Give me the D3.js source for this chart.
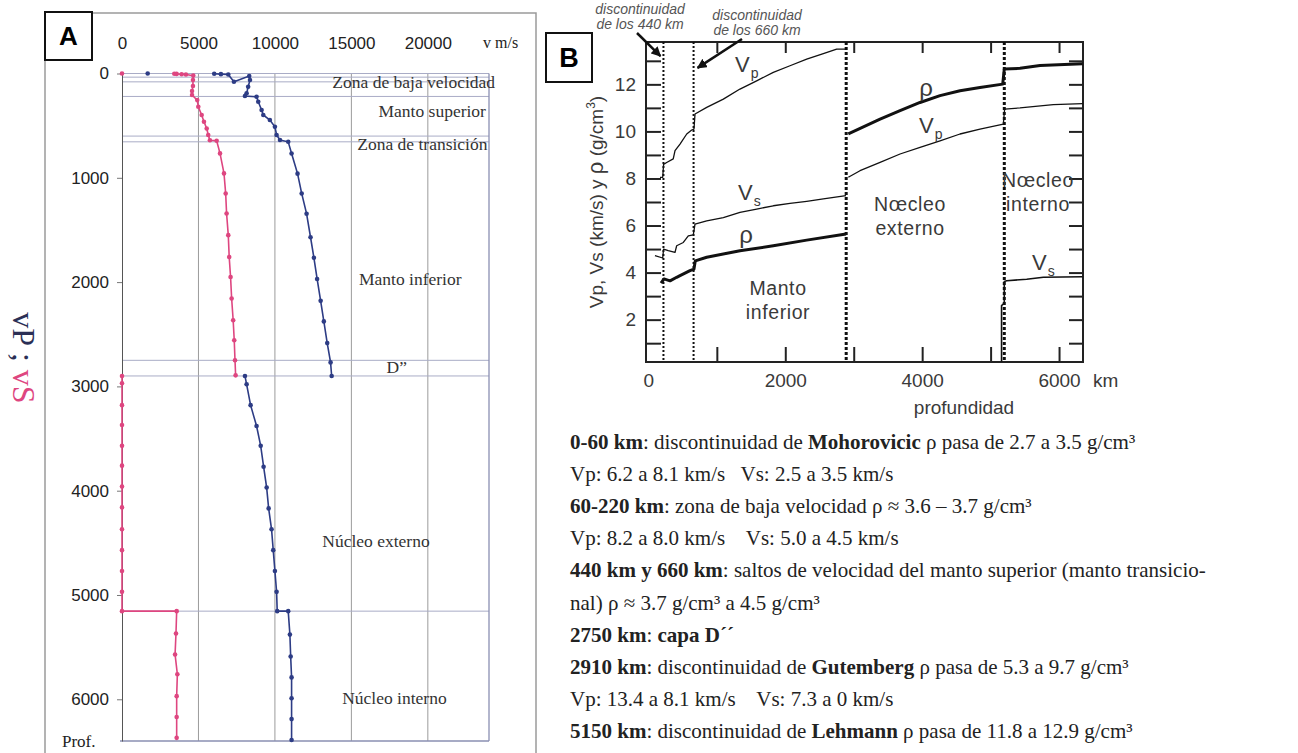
<!DOCTYPE html>
<html><head><meta charset="utf-8">
<script src="https://cdn.jsdelivr.net/npm/d3@7"></script>
<style>body{margin:0;background:#fff}svg{display:block}</style>
</head><body>
<svg id="c" width="1298" height="753"></svg>
<script>
// ---------------- Panel A data (depth km, velocity m/s) ----------------
const aDepthTicks = [0,1000,2000,3000,4000,5000,6000];
const aVelTicks = [0,5000,10000,15000,20000];
const aBandDepths = [0,35,80,220,600,655,2750,2900,5155];
const aVpOcean = [[0,1680]];
const aVpMantle = [[3,6030],[6,6470],[10,6950],[79,7320],[24,8320],[62,8370],[127,8250],[190,8150],[216,8040],[223,8800],[271,8910],[350,9130],[398,9240],[446,9670],[511,10000],[590,10110],[638,10330],[655,10870],[767,11090],[960,11480],[1150,11750],[1344,12070],[1570,12330],[1767,12550],[1970,12760],[2180,12990],[2377,13200],[2585,13420],[2770,13640],[2900,13710]];
const aVpCore = [[2900,8040],[2980,8150],[3180,8410],[3380,8800],[3570,9070],[3770,9260],[3970,9460],[4170,9590],[4370,9780],[4570,9890],[4770,10000],[4970,10110],[5155,10150],[5155,10870],[5380,10980],[5590,11030],[5790,11090],[5990,11090],[6190,11090],[6390,11090]];
const aVsOcean = [[0,0]];
const aVsMantle = [[2,3420],[4,3570],[7,3900],[10,4180],[20,4660],[62,4640],[120,4640],[168,4580],[206,4580],[255,4920],[319,4990],[398,5210],[463,5360],[527,5540],[590,5640],[640,5750],[645,6190],[766,6410],[958,6670],[1150,6780],[1342,6840],[1550,6950],[1759,7010],[1951,7100],[2158,7170],[2366,7270],[2558,7340],[2750,7390],[2894,7430]];
const aVsCore = [[2900,0],[2970,0],[3180,0],[3370,0],[3570,0],[3760,0],[3960,0],[4160,0],[4370,0],[4570,0],[4770,0],[4970,0],[5155,0],[5155,3575],[5370,3530],[5570,3470],[5760,3620],[5970,3575],[6170,3575],[6370,3575]];
const aLayerLabels = [
  {t:"Zona de baja velocidad", d:135, v:24400, a:"end"},
  {t:"Manto superior", d:415, v:23800, a:"end"},
  {t:"Zona de transición", d:735, v:23900, a:"end"},
  {t:"Manto inferior", d:2030, v:15500, a:"start"},
  {t:"D\u201D", d:2870, v:17300, a:"start"},
  {t:"Núcleo externo", d:4540, v:13100, a:"start"},
  {t:"Núcleo interno", d:6050, v:14400, a:"start"}
];

// ---------------- Panel B data (depth km, value) ----------------
const bXTicks = [0,1000,2000,3000,4000,5000,6000];
const bXLabels = [0,2000,4000,6000];
const bYTicks = [1,2,3,4,5,6,7,8,9,10,11,12,13];
const bYLabels = [2,4,6,8,10,12];
const bDiscont = [220,660,2890,5200];
const bVpMantle = [[170,8.05],[209,8.05],[222,8.6],[267,8.68],[363,8.83],[389,9.18],[462,9.46],[560,9.89],[633,10.06],[666,10.1],[681,10.74],[852,11.02],[1095,11.37],[1338,11.80],[1582,12.15],[1825,12.51],[2069,12.79],[2313,13.07],[2556,13.31],[2751,13.50],[2897,13.50]];
const bVpCore = [[2921,8.05],[3092,8.33],[3385,8.68],[3677,9.04],[3969,9.32],[4261,9.60],[4553,9.89],[4845,10.10],[5186,10.31],[5205,10.95],[5430,11.0],[5916,11.14],[6345,11.18]];
const bRhoMantle = [[185,3.55],[228,3.73],[316,3.65],[413,3.80],[462,3.87],[608,4.08],[666,4.15],[685,4.50],[852,4.65],[1338,4.93],[1825,5.14],[2313,5.38],[2887,5.64]];
const bRhoCore = [[2921,9.9],[3385,10.52],[3677,10.88],[3969,11.23],[4261,11.52],[4553,11.73],[4845,11.87],[5177,12.01],[5200,12.65],[5430,12.68],[5722,12.8],[6345,12.88]];
const bVsMantle = [[96,4.72],[209,4.62],[222,5.0],[290,4.93],[389,4.86],[413,5.14],[510,5.28],[583,5.56],[656,5.6],[681,6.06],[852,6.2],[1095,6.34],[1338,6.56],[1582,6.70],[1825,6.84],[2069,6.94],[2313,7.03],[2556,7.13],[2887,7.27]];
const bVsInner = [[5160,0.2],[5160,2.6],[5200,2.7],[5200,3.62],[5235,3.65],[5527,3.72],[5770,3.80],[6345,3.82]];

// ---------------- Notes text ----------------
const notes = [
  [["b","0-60 km"],["n",": discontinuidad de "],["b","Mohorovicic"],["n"," ρ pasa de 2.7 a 3.5 g/cm³"]],
  [["n","Vp: 6.2 a 8.1 km/s   Vs: 2.5 a 3.5 km/s"]],
  [["b","60-220 km"],["n",": zona de baja velocidad ρ ≈ 3.6 – 3.7 g/cm³"]],
  [["n","Vp: 8.2 a 8.0 km/s    Vs: 5.0 a 4.5 km/s"]],
  [["b","440 km y 660 km"],["n",": saltos de velocidad del manto superior (manto transicio-"]],
  [["n","nal) ρ ≈ 3.7 g/cm³ a 4.5 g/cm³"]],
  [["b","2750 km"],["n",": "],["b","capa D´´"]],
  [["b","2910 km"],["n",": discontinuidad de "],["b","Gutemberg"],["n"," ρ pasa de 5.3 a 9.7 g/cm³"]],
  [["n","Vp: 13.4 a 8.1 km/s    Vs: 7.3 a 0 km/s"]],
  [["b","5150 km"],["n",": discontinuidad de "],["b","Lehmann"],["n"," ρ pasa de 11.8 a 12.9 g/cm³"]]
];

const svg = d3.select("#c");
const SERIF = "'Liberation Serif','Times New Roman',serif";
const SANS = "'Liberation Sans',Arial,sans-serif";
const BLUE = "#2d3c85", PINK = "#de4680";
const fmt = d3.format("d");

// ================= PANEL A =================
const xA = d3.scaleLinear([0,24000],[122,489]);
const yA = d3.scaleLinear([0,6400],[73.5,741]);
const gA = svg.append("g");
gA.append("path").attr("d","M45,60V753M92,13H536V753").attr("fill","none").attr("stroke","#9a9a9a").attr("stroke-width",1.5);
gA.append("rect").attr("x",45).attr("y",12).attr("width",47).attr("height",48).attr("fill","#fff").attr("stroke","#111").attr("stroke-width",2);
gA.append("text").attr("x",68.5).attr("y",45).attr("text-anchor","middle").attr("font-family",SANS).attr("font-weight","bold").attr("font-size",26).text("A");

gA.selectAll(".vg").data(aVelTicks.filter(d=>d>0)).join("line")
  .attr("x1",d=>xA(d)).attr("x2",d=>xA(d)).attr("y1",yA(0)).attr("y2",yA(6400))
  .attr("stroke","#9b9b9b").attr("stroke-width",1);
gA.selectAll(".bl").data(aBandDepths).join("line")
  .attr("x1",xA(0)).attr("x2",xA(24000)).attr("y1",d=>yA(d)).attr("y2",d=>yA(d))
  .attr("stroke","#a9acc6").attr("stroke-width",1);
gA.append("line").attr("x1",xA(24000)).attr("x2",xA(24000)).attr("y1",yA(0)).attr("y2",yA(6400)).attr("stroke","#8a8fb2").attr("stroke-width",1.3);
gA.append("line").attr("x1",xA(0)-2).attr("x2",xA(24000)).attr("y1",yA(6400)).attr("y2",yA(6400)).attr("stroke","#8a8fb2").attr("stroke-width",1.5);

const axL = gA.append("g").attr("transform",`translate(${xA(0)},0)`)
  .call(d3.axisLeft(yA).tickValues(aDepthTicks).tickSize(5).tickPadding(8).tickSizeOuter(0).tickFormat(fmt));
axL.select(".domain").attr("stroke","#555");
axL.selectAll(".tick line").attr("stroke","#777");
axL.selectAll("text").attr("font-family",SANS).attr("font-size",17).attr("fill","#222");
const axT = gA.append("g").attr("transform","translate(0,49)")
  .call(d3.axisTop(xA).tickValues(aVelTicks).tickSize(0).tickPadding(0).tickFormat(fmt));
axT.select(".domain").remove();
axT.selectAll("text").attr("font-family",SANS).attr("font-size",17).attr("fill","#222");
gA.append("text").attr("x",483).attr("y",48).attr("font-family",SERIF).attr("font-size",16).attr("fill","#222").text("v m/s");
gA.append("text").attr("x",62).attr("y",747).attr("font-family",SERIF).attr("font-size",17).attr("fill","#222").text("Prof.");

const lab = gA.append("text").attr("transform","translate(13,358) rotate(90)").attr("text-anchor","middle")
  .attr("font-family",SERIF).attr("font-size",32).style("white-space","pre");
lab.append("tspan").attr("fill","#2b2f55").text("vP ; ");
lab.append("tspan").attr("fill",PINK).text("vS");

gA.selectAll(".ll").data(aLayerLabels).join("text")
  .attr("x",d=>xA(d.v)).attr("y",d=>yA(d.d)).attr("text-anchor",d=>d.a)
  .attr("font-family",SERIF).attr("font-size",17.5).attr("fill","#333").text(d=>d.t);

const lineA = d3.line().x(d=>xA(d[1])).y(d=>yA(d[0]));
function seriesA(data,color){
  gA.append("path").datum(data).attr("d",lineA).attr("fill","none").attr("stroke",color).attr("stroke-width",1.6);
  gA.append("g").selectAll("circle").data(data).join("circle")
    .attr("cx",d=>xA(d[1])).attr("cy",d=>yA(d[0])).attr("r",2.3).attr("fill",color);
}
seriesA(aVsOcean,PINK); seriesA(aVsMantle,PINK); seriesA(aVsCore,PINK);
seriesA(aVpOcean,BLUE); seriesA(aVpMantle,BLUE); seriesA(aVpCore,BLUE);

// ================= PANEL B =================
const xB = d3.scaleLinear([-35,6350],[646,1083]);
const yB = d3.scaleLinear([0.2,13.8],[362,42]);
const gB = svg.append("g");
const GREY = "#3a3a3a";
gB.append("rect").attr("x",546).attr("y",33).attr("width",46).attr("height",49).attr("fill","#fff").attr("stroke","#111").attr("stroke-width",2);
gB.append("text").attr("x",569).attr("y",67).attr("text-anchor","middle").attr("font-family",SANS).attr("font-weight","bold").attr("font-size",27).text("B");

const bl = gB.append("g").attr("transform",`translate(${xB.range()[0]},0)`)
  .call(d3.axisLeft(yB).tickValues(bYTicks).tickSize(-15).tickPadding(10).tickFormat(d=>bYLabels.includes(d)?d:""));
const br = gB.append("g").attr("transform",`translate(${xB.range()[1]},0)`)
  .call(d3.axisRight(yB).tickValues(bYTicks).tickSize(-14).tickFormat(""));
const bb = gB.append("g").attr("transform",`translate(0,${yB.range()[0]})`)
  .call(d3.axisBottom(xB).tickValues(bXTicks).tickSize(-15).tickPadding(11.5).tickFormat(d=>bXLabels.includes(d)?fmt(d):""));
const bt = gB.append("g").attr("transform",`translate(0,${yB.range()[1]})`)
  .call(d3.axisTop(xB).tickValues(bXTicks.filter(d=>d>0)).tickSize(-11).tickFormat(""));
bb.selectAll(".tick").filter(d=>d===0).select("line").remove();
[bl,br,bb,bt].forEach(g=>{g.select(".domain").remove();g.selectAll(".tick line").attr("stroke","#222").attr("stroke-width",2);
  g.selectAll("text").attr("font-family",SANS).attr("font-size",19).attr("fill",GREY);});
gB.append("rect").attr("x",646).attr("y",42).attr("width",437).attr("height",320).attr("fill","none").attr("stroke","#222").attr("stroke-width",2);
gB.append("text").attr("x",1093).attr("y",387).attr("font-family",SANS).attr("font-size",19).attr("fill",GREY).text("km");
gB.append("text").attr("x",964).attr("y",414).attr("text-anchor","middle").attr("font-family",SANS).attr("font-size",19).attr("fill",GREY).text("profundidad");
const yt = gB.append("text").attr("transform","translate(603,202) rotate(-90)").attr("text-anchor","middle")
  .attr("font-family",SANS).attr("font-size",19).attr("fill",GREY);
yt.append("tspan").text("Vp, Vs (km/s) y ");
yt.append("tspan").attr("font-size",22).text("ρ");
yt.append("tspan").text(" (g/cm");
yt.append("tspan").attr("font-size",12).attr("dy",-8).text("3");
yt.append("tspan").attr("dy",8).text(")");

gB.selectAll(".dl").data(bDiscont).join("line")
  .attr("x1",d=>xB(d)).attr("x2",d=>xB(d)).attr("y1",yB.range()[1]).attr("y2",yB.range()[0])
  .attr("stroke","#111").attr("stroke-width",(d,i)=>i<2?2:3).attr("stroke-dasharray",(d,i)=>i<2?"2,2":"3,2");

const lineB = d3.line().x(d=>xB(d[0])).y(d=>yB(d[1]));
function curveB(data,w){ gB.append("path").datum(data).attr("d",lineB).attr("fill","none").attr("stroke","#111").attr("stroke-width",w).attr("stroke-linejoin","round"); }
curveB(bVpMantle,1.3); curveB(bVpCore,1.3); curveB(bVsMantle,1.3); curveB(bVsInner,1.6);
curveB(bRhoMantle,3); curveB(bRhoCore,3);

function vlab(x,y,sub){
  const t = gB.append("text").attr("x",x).attr("y",y).attr("font-family",SANS).attr("font-size",22).attr("fill",GREY);
  t.append("tspan").text("V");
  t.append("tspan").attr("font-size",14).attr("dy",6).attr("dx",1).text(sub);
}
vlab(735,72,"p"); vlab(919,133,"p"); vlab(738,200,"s"); vlab(1032,270,"s");
[[926,96],[746,243]].forEach(p=>gB.append("text").attr("x",p[0]).attr("y",p[1]).attr("text-anchor","middle").attr("font-family",SANS).attr("font-size",24).attr("fill",GREY).text("ρ"));
function ml(x,y,lines){ lines.forEach((s,i)=>gB.append("text").attr("x",x).attr("y",y+i*24).attr("text-anchor","middle").attr("font-family",SANS).attr("font-size",19.5).attr("fill",GREY).attr("letter-spacing",0.6).text(s)); }
ml(778,295,["Manto","inferior"]);
ml(910,211,["Nœcleo","externo"]);
ml(1038,187,["Nœcleo","interno"]);

function ann(x,y,lines){ lines.forEach((s,i)=>gB.append("text").attr("x",x).attr("y",y+i*14.5).attr("text-anchor","middle").attr("font-family",SANS).attr("font-style","italic").attr("font-size",14).attr("fill","#555").text(s)); }
ann(640,14,["discontinuidad","de los 440 km"]);
ann(757,20,["discontinuidad","de los 660 km"]);
svg.append("defs").append("marker").attr("id","ah").attr("viewBox","0 0 10 10").attr("refX",9).attr("refY",5)
  .attr("markerWidth",4).attr("markerHeight",4).attr("orient","auto")
  .append("path").attr("d","M0,0L10,5L0,10z").attr("fill","#111");
gB.append("line").attr("x1",637).attr("y1",33).attr("x2",xB(bDiscont[0])-3).attr("y2",yB(13.2)).attr("stroke","#111").attr("stroke-width",2.5).attr("marker-end","url(#ah)");
gB.append("line").attr("x1",742).attr("y1",39).attr("x2",xB(bDiscont[1])+4).attr("y2",yB(12.7)).attr("stroke","#111").attr("stroke-width",2.5).attr("marker-end","url(#ah)");

// notes
const gN = svg.append("g");
notes.forEach((ln,i)=>{
  const t = gN.append("text").attr("x",570).attr("y",449+i*32.1).attr("font-family",SERIF).attr("font-size",21).attr("fill","#222").style("white-space","pre");
  ln.forEach(([k,s])=>t.append("tspan").attr("font-weight",k==="b"?"bold":"normal").text(s));
});
</script>
</body></html>
